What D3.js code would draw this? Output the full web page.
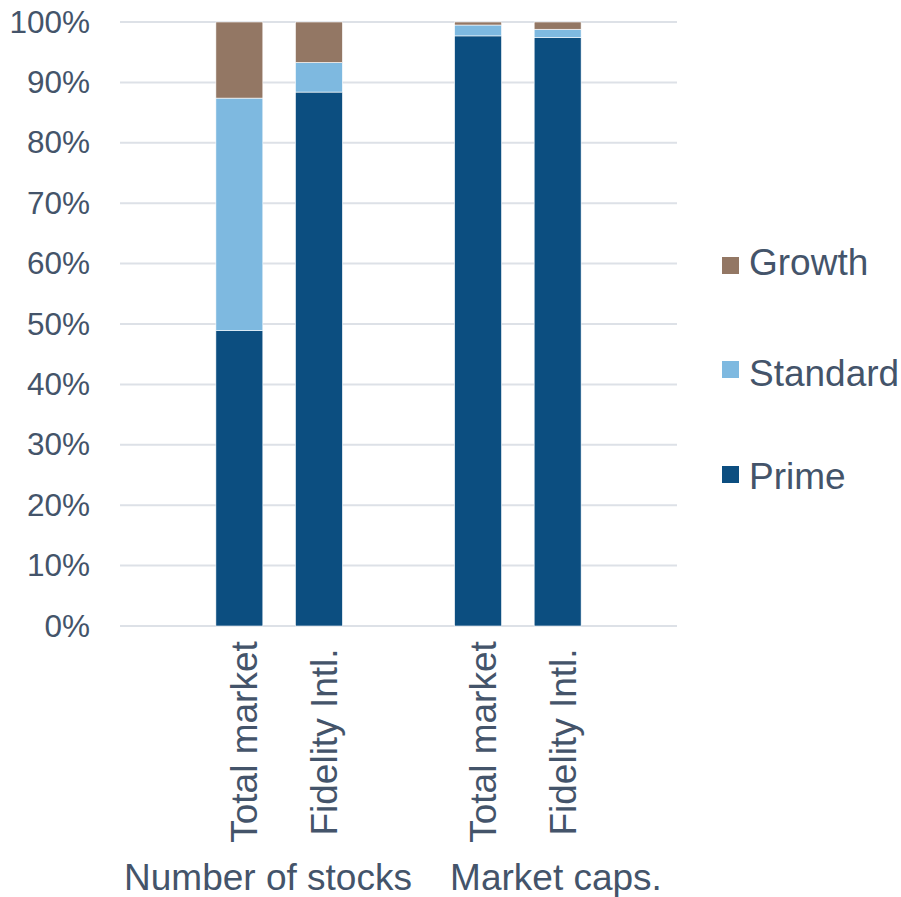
<!DOCTYPE html>
<html>
<head>
<meta charset="utf-8">
<script src="https://cdn.jsdelivr.net/npm/d3@7"></script>
<style>
  html, body { margin: 0; padding: 0; background: #fff; }
  svg { display: block; font-family: "Liberation Sans", Arial, sans-serif; }
</style>
</head>
<body>
<svg id="chart" width="901" height="897"></svg>
<script>
// Share of listings by TSE segment (%)
const groups = ["Number of stocks", "Market caps."];
const categories = ["Total market", "Fidelity Intl."];
const seriesNames = ["Prime", "Standard", "Growth"];
const prime = [48.9, 88.4, 97.7, 97.4];
const standard = [38.5, 4.9, 1.8, 1.4];
const growth = [12.6, 6.7, 0.5, 1.2];
const yTicks = [0, 10, 20, 30, 40, 50, 60, 70, 80, 90, 100];

const colors = { Prime: "#0c4e80", Standard: "#7eb9e0", Growth: "#937764" };
const textColor = "#44546a";
const gridColor = "#dde1e7";

const svg = d3.select("#chart");
const plot = { left: 120, right: 677, top: 22, bottom: 626 };

// Rows: one per bar, in group order
const rows = [];
groups.forEach((g, gi) => {
  categories.forEach((c, ci) => {
    const i = gi * categories.length + ci;
    rows.push({ key: gi + "|" + ci, group: g, category: c,
      Prime: prime[i], Standard: standard[i], Growth: growth[i] });
  });
});

// Slots: an empty slot before, between and after the groups
const slots = ["gap0"];
groups.forEach((g, gi) => {
  categories.forEach((c, ci) => slots.push(gi + "|" + ci));
  slots.push("gap" + (gi + 1));
});

const x = d3.scaleBand()
  .domain(slots)
  .range([plot.left, plot.right])
  .paddingInner(0.41)
  .paddingOuter(0.205);

const y = d3.scaleLinear().domain([0, 100]).range([plot.bottom, plot.top]);

// Gridlines
svg.append("g")
  .selectAll("line")
  .data(yTicks)
  .join("line")
  .attr("x1", plot.left).attr("x2", plot.right)
  .attr("y1", d => y(d)).attr("y2", d => y(d))
  .attr("stroke", gridColor).attr("stroke-width", 2);

// Y axis labels
const yAxis = d3.axisLeft(y).tickValues(yTicks).tickFormat(d => d + "%").tickSize(0).tickPadding(0);
const yg = svg.append("g").attr("transform", `translate(${plot.left - 30},0)`).call(yAxis);
yg.select(".domain").remove();
yg.selectAll("text")
  .attr("fill", textColor)
  .style("font-size", "31.5px")
  .style("font-family", "'Liberation Sans', Arial, sans-serif");

// Stacked bars
const stack = d3.stack().keys(seriesNames);
const layers = stack(rows);
svg.append("g")
  .selectAll("g")
  .data(layers)
  .join("g")
  .attr("fill", d => colors[d.key])
  .selectAll("rect")
  .data(d => d)
  .join("rect")
  .attr("x", d => x(d.data.key))
  .attr("width", x.bandwidth())
  .attr("y", d => y(d[1]))
  .attr("height", d => y(d[0]) - y(d[1]))
  .attr("stroke", "#ffffff")
  .attr("stroke-width", 0.6);

// Category labels, rotated
svg.append("g")
  .selectAll("text")
  .data(rows)
  .join("text")
  .attr("transform", d => `translate(${x(d.key) + x.bandwidth() / 2 + 18},742) rotate(-90)`)
  .attr("text-anchor", "middle")
  .attr("fill", textColor)
  .style("font-size", "37px")
  .text(d => d.category);

// Group labels
const groupLabelX = [268, 556];
svg.append("g")
  .selectAll("text")
  .data(groups)
  .join("text")
  .attr("x", (d, i) => groupLabelX[i])
  .attr("y", 890)
  .attr("text-anchor", "middle")
  .attr("fill", textColor)
  .style("font-size", "37px")
  .text(d => d);

// Legend (top to bottom: Growth, Standard, Prime)
const legendItems = seriesNames.slice().reverse();
const legendSwatchY = [257, 361, 466];
const legendTextY = [275, 386, 489];
const lg = svg.append("g")
  .selectAll("g")
  .data(legendItems)
  .join("g");
lg.append("rect")
  .attr("x", 722)
  .attr("y", (d, i) => legendSwatchY[i])
  .attr("width", 17).attr("height", 17)
  .attr("fill", d => colors[d]);
lg.append("text")
  .attr("x", 749)
  .attr("y", (d, i) => legendTextY[i])
  .attr("fill", textColor)
  .style("font-size", "37px")
  .text(d => d);
</script>
</body>
</html>
